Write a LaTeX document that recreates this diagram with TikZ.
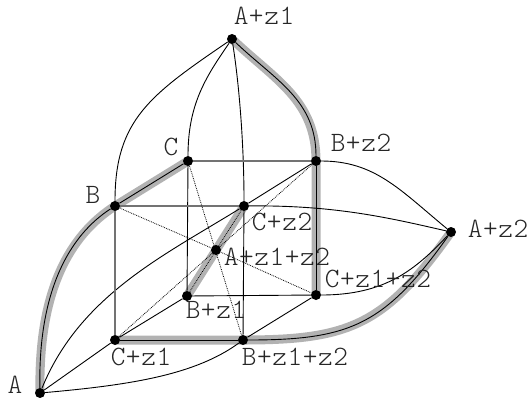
\documentclass[tikz,border=0pt]{standalone}
\usepackage{fontspec}
\newfontfamily\lblfont[LetterSpace=2]{Latin Modern Mono Light}
\usetikzlibrary{backgrounds}
\tikzset{
  dot/.style={circle, fill=black, inner sep=0pt, minimum size=10pt},
  lbl/.style={font=\lblfont\fontsize{28}{28}\selectfont, inner sep=0pt, text=black!85},
  wire/.style={line width=0.9pt},
  dim/.style={line width=1.2pt, black!55},
  fine/.style={line width=0.8pt, densely dotted},
  halo/.style={line width=9pt, black!30}
}
\begin{document}
\begin{tikzpicture}[x=1pt,y=-1pt]
      \useasboundingbox (0,0) rectangle (529,397);

      % Draw the twelve points
      \node[dot] at (40,393) (a) {};
      \node[dot] at (115,206) (b) {};
      \node[dot] at (188,161) (c) {};
      \node[dot] at (232,39) (az1) {};
      \node[dot] at (316,161) (bz2) {};
      \node[dot] at (244,206) (cz2) {};
      \node[dot] at (216,250) (az1z2) {};
      \node[dot] at (187,296) (bz1) {};
      \node[dot] at (316,295) (cz1z2) {};
      \node[dot] at (451,232) (az2) {};
      \node[dot] at (115,340) (cz1) {};
      \node[dot] at (243,340) (bz1z2) {};

      % Draw the gray band below everything
      \begin{scope}[on background layer]
        \draw[halo] (a.center) .. controls (38,290) and (70,235) .. (b.center) -- (c.center);
        \draw[halo] (az1.center) .. controls (275,80) and (316,100) .. (bz2.center) -- (cz1z2.center);
        \draw[halo] (bz1.center) -- (cz2.center);
        \draw[halo] (cz1.center) -- (bz1z2.center) .. controls (350,340) and (385,325) .. (az2.center);
      \end{scope}

      % Draw the curves
      \draw[wire] (a) .. controls (38,290) and (70,235) .. (b);
      \draw[wire] (b) -- (c);
      \draw[wire] (az1) .. controls (275,80) and (316,100) .. (bz2);
      \draw[wire] (az1) .. controls (150,95) and (115,120) .. (b);
      \draw[wire] (az1) .. controls (205,78) and (188,105) .. (c);
      \draw[wire] (az1) .. controls (240,90) and (244,150) .. (cz2);
      \draw[wire] (a) .. controls (80,295) and (165,255) .. (cz2);
      \draw[wire] (a) .. controls (130,385) and (195,375) .. (bz1z2);
      \draw[wire] (bz2) .. controls (375,161) and (400,190) .. (az2);
      \draw[wire] (cz2) .. controls (335,205) and (390,218) .. (az2);
      \draw[wire] (cz1z2) .. controls (385,295) and (415,270) .. (az2);
      \draw[wire] (bz1z2) .. controls (350,340) and (385,325) .. (az2);

      % Draw the straight edges
      \draw[wire] (a) -- (cz1);
      \draw[wire] (cz1) -- (bz1);
      \draw[wire] (cz1) -- (bz1z2);
      \draw[wire] (bz1z2) -- (cz1z2);
      \draw[wire] (cz2) -- (bz2);
      \draw[wire] (c) -- (bz1);
      \draw[wire] (cz2) -- (bz1z2);
      \draw[wire] (bz1) -- (cz1z2);
      \draw[wire] (bz2) -- (cz1z2);
      \draw[dim] (b) -- (cz2);
      \draw[dim] (b) -- (cz1);
      \draw[dim] (c) -- (bz2);

      % Draw the dotted diagonals
      \draw[fine] (b) -- (az1z2);
      \draw[fine] (az1z2) -- (cz1z2);
      \draw[fine] (c) -- (bz1z2);
      \draw[fine] (cz1) -- (az1z2);
      \draw[fine] (az1z2) -- (bz2);
      \draw[fine] (bz1) -- (cz2);

      % Draw the labels
      \node[lbl] at (15,385) (laba) {A};
      \node[lbl] at (93,195) (labb) {B};
      \node[lbl] at (171,147) (labc) {C};
      \node[lbl] at (264,16) (labaz1) {A+z1};
      \node[lbl] at (361,143) (labbz2) {B+z2};
      \node[lbl] at (282,222) (labcz2) {C+z2};
      \node[lbl] at (277,257) (labaz1z2) {A+z1+z2};
      \node[lbl] at (216,310) (labbz1) {B+z1};
      \node[lbl] at (378,279) (labcz1z2) {C+z1+z2};
      \node[lbl] at (498,229) (labaz2) {A+z2};
      \node[lbl] at (141,357) (labcz1) {C+z1};
      \node[lbl] at (295,357) (labbz1z2) {B+z1+z2};
    \end{tikzpicture}
\end{document}
